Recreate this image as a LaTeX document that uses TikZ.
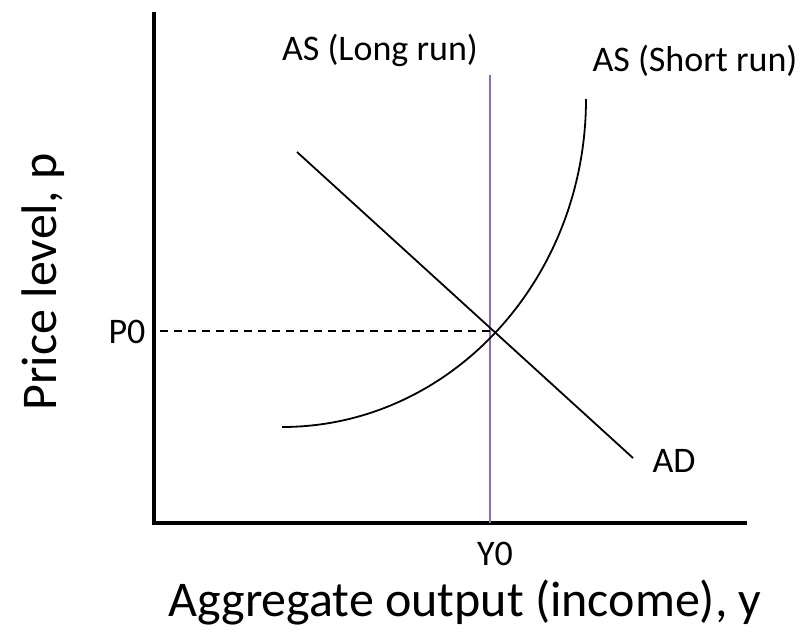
\documentclass[tikz,border=0pt]{standalone}
\usepackage{fontspec}
\setmainfont{Carlito}
\usepackage{xcolor}
\usepackage{tikz}
\usetikzlibrary{calc}
\definecolor{lrpurple}{HTML}{8E6BBF}

\begin{document}
\begin{tikzpicture}[x=1pt,y=-1pt,
  lbl/.style={font=\fontsize{36}{40}\selectfont,inner sep=0pt},
  ttl/.style={font=\fontsize{50}{56}\selectfont,inner sep=0pt},
  curve/.style={line width=1.8pt,black}]
\useasboundingbox (0,0) rectangle (803,634);
% axes
\coordinate (O) at (154,523);
\coordinate (ytop) at (154,12);
\coordinate (xend) at (747,523);
\draw[line width=4.5pt] (ytop)--(O)--(xend);
% long run AS
\coordinate (lrtop) at (490,75);
\coordinate (lrbot) at (490,523);
\draw[lrpurple,line width=1.5pt] (lrtop)--(lrbot);
% AD
\coordinate (adA) at (297,152);
\coordinate (adB) at (633,458);
\draw[curve] (adA)--(adB);
% short run AS
\coordinate (srA) at (282,427);
\coordinate (srB) at (586,99);
\draw[curve] (srA) .. controls (450,427) and (586,280) .. (srB);
% equilibrium price
\coordinate (E) at (490,331);
\draw[line width=1.5pt,dash pattern=on 8pt off 6pt] ($(O|-E)+(6,0)$)--(E);
% labels
\node[lbl,anchor=base] (lrlab) at (380,60) {AS (Long run)};
\node[lbl,anchor=base] (srlab) at (695,71) {AS (Short run)};
\node[lbl,anchor=base] (p0) at (127,343) {P0};
\node[lbl,anchor=base] (adlab) at (674,472) {AD};
\node[lbl,anchor=base] (y0) at (495,565) {Y0};
\node[ttl,anchor=base] (xlab) at (465,616) {Aggregate output (income), y};
\node[ttl,rotate=90,anchor=base] (ylab) at (56,282) {Price level, p};
\end{tikzpicture}
\end{document}
